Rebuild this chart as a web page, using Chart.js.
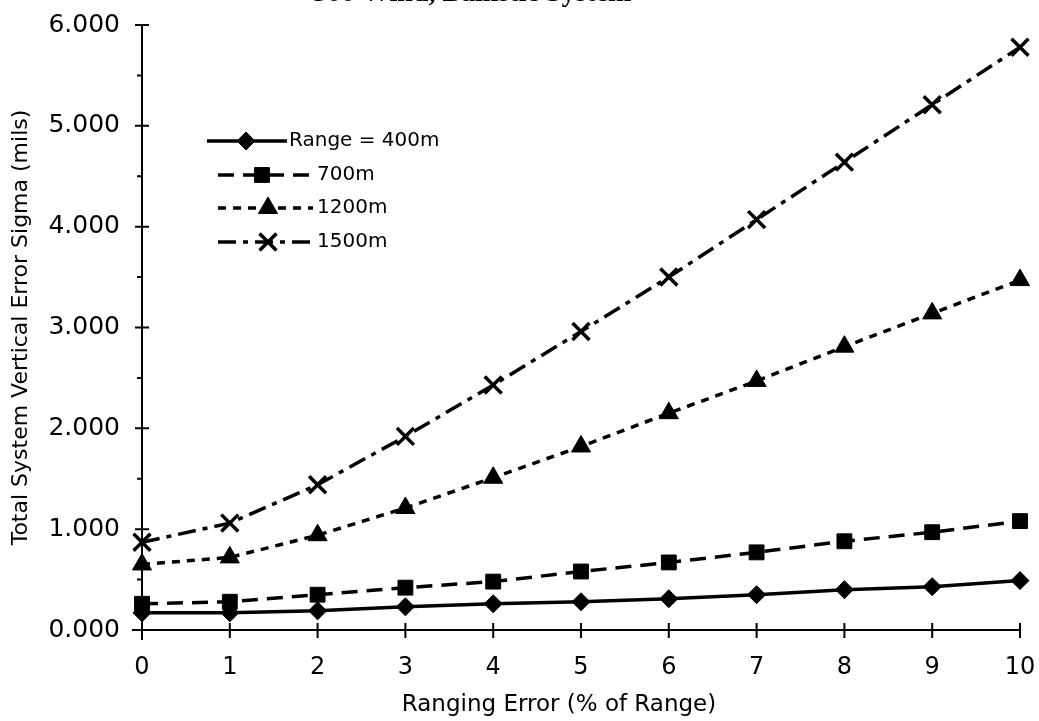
<!DOCTYPE html>
<html><head><meta charset="utf-8">
<style>html,body{margin:0;padding:0;background:#fff}#wrap{width:1039px;height:721px}</style>
<script src="https://cdn.jsdelivr.net/npm/chart.js@4/dist/chart.umd.min.js"></script>
</head><body><div id="wrap"><canvas id="c" width="1039" height="721"></canvas></div>
<script>
const xValues = [0, 1, 2, 3, 4, 5, 6, 7, 8, 9, 10];
const seriesNames = ["Range = 400m", "700m", "1200m", "1500m"];
const range400 = [0.17, 0.17, 0.19, 0.23, 0.26, 0.28, 0.31, 0.35, 0.40, 0.43, 0.49];
const range700 = [0.26, 0.28, 0.35, 0.42, 0.48, 0.58, 0.67, 0.77, 0.88, 0.97, 1.08];
const range1200 = [0.65, 0.72, 0.94, 1.21, 1.51, 1.82, 2.15, 2.47, 2.81, 3.14, 3.47];
const range1500 = [0.87, 1.06, 1.44, 1.92, 2.43, 2.96, 3.50, 4.07, 4.64, 5.21, 5.78];
const yMajorTicks = [0, 1, 2, 3, 4, 5, 6];
const yMinorTicks = [0.5, 1.5, 2.5, 3.5, 4.5, 5.5];
const xTicks = [0, 1, 2, 3, 4, 5, 6, 7, 8, 9, 10];
const titleText = "500 Wind, Ballistic System";
const xTitle = "Ranging Error (% of Range)";
const yTitle = "Total System Vertical Error Sigma (mils)";

const FONT = "'DejaVu Sans', sans-serif";
const styles = [
  {dash: [], style: 'rectRot', radius: 9, bw: 1},
  {dash: [16, 9], style: 'rect', radius: 10.5, bw: 1},
  {dash: [8, 7], style: 'triangle', radius: 11, bw: 1},
  {dash: [18, 7, 5, 7], style: 'crossRot', radius: 12, bw: 3.5}
];
const allSeries = [range400, range700, range1200, range1500];

const datasets = allSeries.map((vals, i) => ({
  label: seriesNames[i],
  data: xValues.map((x, j) => ({x: x, y: vals[j]})),
  borderColor: '#000',
  backgroundColor: '#000',
  borderWidth: 3.5,
  borderDash: styles[i].dash,
  pointStyle: styles[i].style,
  pointRadius: styles[i].radius,
  pointBorderWidth: styles[i].bw,
  pointBackgroundColor: '#000',
  pointBorderColor: '#000',
  tension: 0,
  clip: false
}));

const axesPlugin = {
  id: 'axesDraw',
  beforeDatasetsDraw(chart) {
    const ctx = chart.ctx, xs = chart.scales.x, ys = chart.scales.y;
    const a = chart.chartArea;
    ctx.save();
    ctx.strokeStyle = '#000';
    ctx.lineWidth = 2;
    ctx.setLineDash([]);
    ctx.beginPath();
    ctx.moveTo(a.left, a.top); ctx.lineTo(a.left, a.bottom + 10);
    ctx.moveTo(a.left - 10, a.bottom); ctx.lineTo(a.right, a.bottom);
    yMajorTicks.forEach(v => { const p = ys.getPixelForValue(v); ctx.moveTo(a.left - 7, p); ctx.lineTo(a.left + 7, p); });
    yMinorTicks.forEach(v => { const p = ys.getPixelForValue(v); ctx.moveTo(a.left - 5, p); ctx.lineTo(a.left, p); });
    xTicks.forEach(v => { const p = xs.getPixelForValue(v); ctx.moveTo(p, a.bottom - 7); ctx.lineTo(p, a.bottom + 8); });
    ctx.stroke();
    ctx.restore();
  },
  afterDraw(chart) {
    const ctx = chart.ctx;
    ctx.save();
    // partial title at top edge (cut off in the original)
    ctx.fillStyle = '#000';
    ctx.font = "bold 28px 'Liberation Serif', serif";
    ctx.textBaseline = 'alphabetic';
    ctx.textAlign = 'left';
    ctx.fillText(titleText, 313, 1, 405);
    // x axis title
    ctx.font = "23px " + FONT;
    ctx.textAlign = 'center';
    ctx.textBaseline = 'middle';
    ctx.fillText(xTitle, 559, 705);
    // legend
    const rows = [
      {x0: 207, x1: 287, m: 246, tx: 289, y: 141},
      {x0: 218, x1: 313, m: 262, tx: 317, y: 175},
      {x0: 218, x1: 313, m: 268, tx: 317, y: 208},
      {x0: 218, x1: 313, m: 268, tx: 317, y: 242}
    ];
    chart.data.datasets.forEach((ds, i) => {
      const r = rows[i];
      ctx.strokeStyle = '#000';
      ctx.lineWidth = 3.5;
      ctx.setLineDash(ds.borderDash);
      ctx.beginPath();
      ctx.moveTo(r.x0, r.y); ctx.lineTo(r.x1, r.y);
      ctx.stroke();
      ctx.setLineDash([]);
      ctx.fillStyle = '#000';
      ctx.lineWidth = ds.pointBorderWidth;
      Chart.helpers.drawPoint(ctx, {pointStyle: ds.pointStyle, radius: ds.pointRadius, rotation: 0, borderWidth: ds.pointBorderWidth}, r.m, r.y);
      ctx.fillStyle = '#000';
      ctx.font = "20px " + FONT;
      ctx.textBaseline = 'middle';
      ctx.textAlign = 'left';
      ctx.fillText(ds.label, r.tx, r.y);
    });
    ctx.restore();
  }
};

new Chart(document.getElementById('c'), {
  type: 'line',
  data: {datasets: datasets},
  options: {
    responsive: false,
    animation: false,
    devicePixelRatio: 1,
    layout: {padding: {top: 25, right: 19, left: 0, bottom: 0}},
    plugins: {legend: {display: false}, tooltip: {enabled: false}, title: {display: false}},
    scales: {
      x: {
        type: 'linear', min: 0, max: 10,
        grid: {display: false}, border: {display: false},
        ticks: {stepSize: 1, color: '#000', font: {family: FONT, size: 24}, padding: 15, maxRotation: 0},
        title: {display: false},
        afterFit(s) { s.height = 91; s.paddingLeft = 0; s.paddingRight = 0; }
      },
      y: {
        min: 0, max: 6,
        grid: {display: false}, border: {display: false},
        ticks: {stepSize: 1, color: '#000', font: {family: FONT, size: 25}, padding: 14, callback: v => Number(v).toFixed(3)},
        title: {display: true, text: yTitle, color: '#000', font: {family: FONT, size: 22}, padding: {top: 8, bottom: 0}},
        afterFit(s) { s.width = 142; s.paddingTop = 0; s.paddingBottom = 0; }
      }
    }
  },
  plugins: [axesPlugin]
});
</script></body></html>
